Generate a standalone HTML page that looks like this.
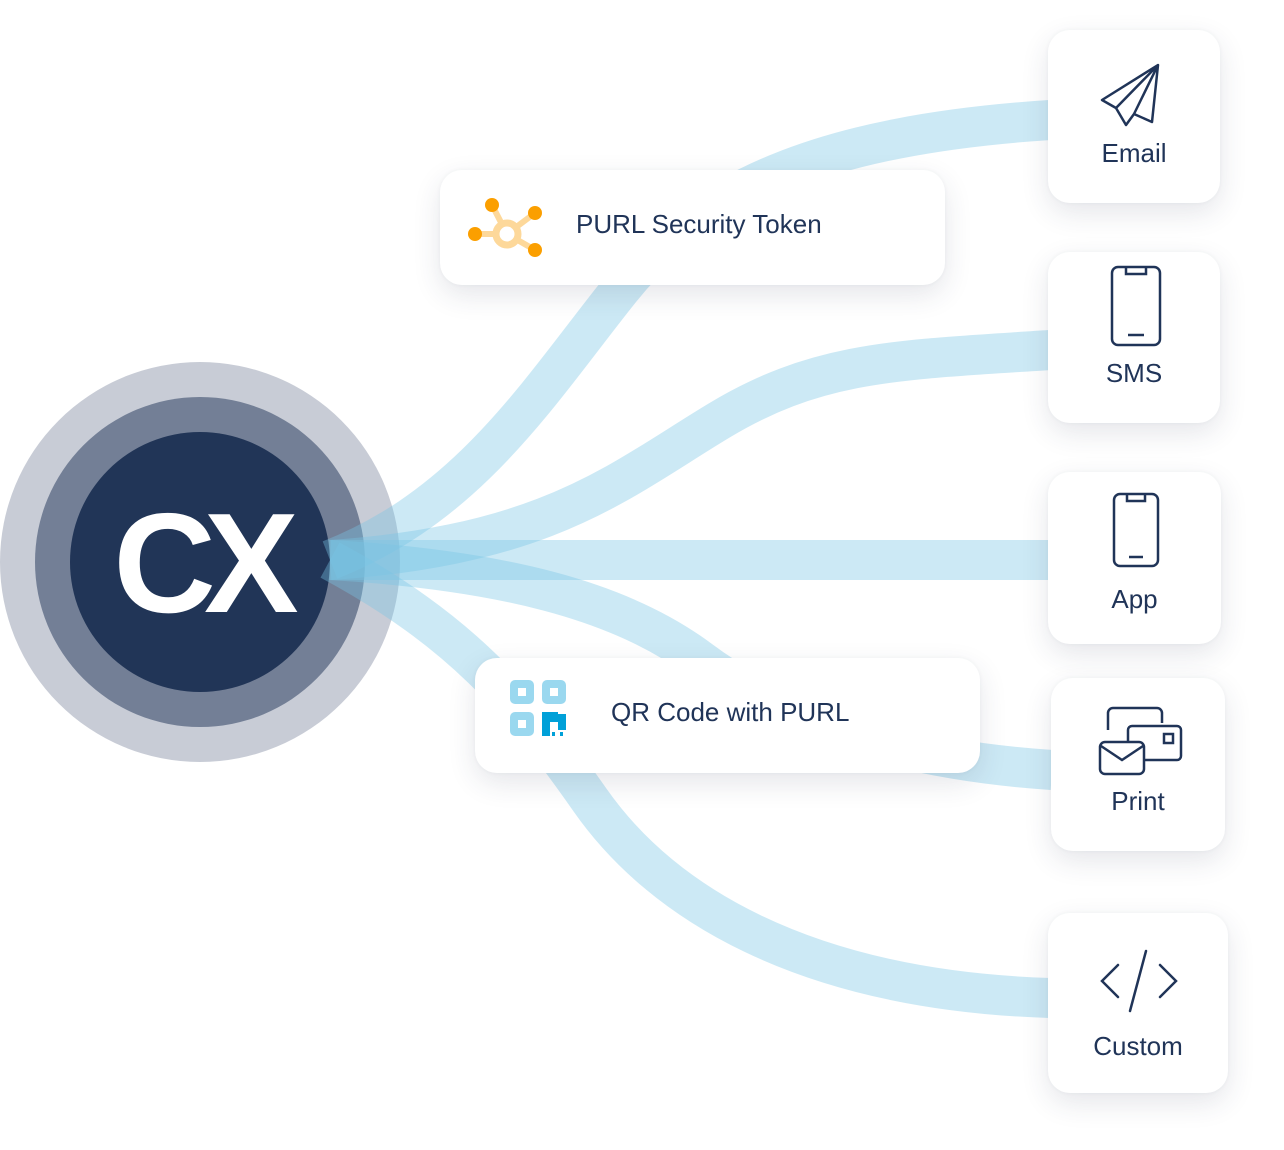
<!DOCTYPE html>
<html><head><meta charset="utf-8"><style>
html,body{margin:0;padding:0;background:#fff;}
body{width:1284px;height:1150px;position:relative;overflow:hidden;font-family:"Liberation Sans",sans-serif;}
.card{position:absolute;background:#fff;border-radius:22px;box-shadow:0 10px 28px rgba(40,50,80,0.12),0 0 4px rgba(40,50,80,0.05);}
.lbl{position:absolute;left:0;right:0;text-align:center;color:#203458;font-size:26px;}
.wide .t{position:absolute;color:#203458;font-size:26px;}
svg{position:absolute;left:0;top:0;}
</style></head><body>
<svg width="1284" height="1150">
 <circle cx="200" cy="562" r="200" fill="#c8ccd6"/>
 <circle cx="200" cy="562" r="165" fill="#737f96"/>
 <circle cx="200" cy="562" r="130" fill="#213557"/>
 <g fill="none" stroke="rgba(120,196,230,0.38)" stroke-width="40">
  <path d="M330,560 C470,505 540,390 620,290 S 820,135 1050,120"/>
  <path d="M330,560 C550,545 620,480 720,420 S 900,360 1050,350"/>
  <path d="M330,560 L1050,560"/>
  <path d="M330,560 C500,570 620,600 700,660 S 900,760 1052,770"/>
  <path d="M330,560 C460,630 520,700 590,800 S 800,990 1050,998"/>
 </g>
 <text x="200" y="612" text-anchor="middle" font-family="Liberation Sans,sans-serif" font-weight="bold" font-size="142" fill="#fff" letter-spacing="-12">CX</text>
</svg>

<div class="card" style="left:1048px;top:30px;width:172px;height:173px;">
 <svg width="172" height="173"><g fill="none" stroke="#203458" stroke-width="2.5" stroke-linejoin="round">
  <path d="M110,35 L54,70 L68,78 L78,95 L86,84 L104,92 Z M110,35 L68,78 M110,35 L86,84 L78,95"/></g></svg>
 <div class="lbl" style="top:108px">Email</div></div>

<div class="card" style="left:1048px;top:252px;width:172px;height:171px;">
 <svg width="172" height="171"><g fill="none" stroke="#203458" stroke-width="2.5">
  <rect x="64" y="15" width="48" height="78" rx="6"/><path d="M78,16 v6 h20 v-6 M80,83 h16"/></g></svg>
 <div class="lbl" style="top:106px">SMS</div></div>

<div class="card" style="left:1048px;top:472px;width:173px;height:172px;">
 <svg width="173" height="172"><g fill="none" stroke="#203458" stroke-width="2.5">
  <rect x="66" y="22" width="44" height="72" rx="6"/><path d="M79,23 v6 h18 v-6 M81,85 h14"/></g></svg>
 <div class="lbl" style="top:112px">App</div></div>

<div class="card" style="left:1051px;top:678px;width:174px;height:173px;">
 <svg width="174" height="173"><g fill="none" stroke="#203458" stroke-width="2.5">
  <path d="M57,52 V35 a5,5 0 0 1 5,-5 h44 a5,5 0 0 1 5,5 v10"/>
  <rect x="77" y="48" width="53" height="34" rx="4" fill="#fff"/>
  <rect x="113" y="56" width="9" height="9"/>
  <rect x="49" y="64" width="44" height="32" rx="5" fill="#fff"/>
  <path d="M50,68 L71,82 L92,68"/></g></svg>
 <div class="lbl" style="top:108px">Print</div></div>

<div class="card" style="left:1048px;top:913px;width:180px;height:180px;">
 <svg width="180" height="180"><g fill="none" stroke="#203458" stroke-width="2.5" stroke-linecap="round">
  <path d="M70,52 L54,68 L70,84 M112,52 L128,68 L112,84 M98,38 L82,98"/></g></svg>
 <div class="lbl" style="top:118px">Custom</div></div>

<div class="card wide" style="left:440px;top:170px;width:505px;height:115px;">
 <svg width="120" height="115"><g>
  <path d="M67,64 L52,35 M67,64 L95,43 M67,64 L35,64 M67,64 L95,80" stroke="#fdd89a" stroke-width="6" fill="none"/>
  <circle cx="67" cy="64" r="11" fill="#fff" stroke="#fdd89a" stroke-width="7"/>
  <circle cx="52" cy="35" r="7" fill="#fb9f00"/><circle cx="95" cy="43" r="7" fill="#fb9f00"/>
  <circle cx="35" cy="64" r="7" fill="#fb9f00"/><circle cx="95" cy="80" r="7" fill="#fb9f00"/></g></svg>
 <div class="t" style="left:136px;top:39px">PURL Security Token</div></div>

<div class="card wide" style="left:475px;top:658px;width:505px;height:115px;">
 <svg width="120" height="115"><g fill="#9ad8ef">
  <rect x="35" y="22" width="24" height="24" rx="5"/><rect x="67" y="22" width="24" height="24" rx="5"/>
  <rect x="35" y="54" width="24" height="24" rx="5"/></g>
  <g fill="#fff"><rect x="43" y="30" width="8" height="8"/><rect x="75" y="30" width="8" height="8"/><rect x="43" y="62" width="8" height="8"/></g>
  <g fill="#00a0d8"><rect x="67" y="54" width="8" height="24"/><rect x="75" y="54" width="8" height="10"/><rect x="83" y="56" width="8" height="16"/><rect x="77" y="74" width="3" height="4"/><rect x="85" y="74" width="3" height="4"/></g></svg>
 <div class="t" style="left:136px;top:39px">QR Code with PURL</div></div>
</body></html>
